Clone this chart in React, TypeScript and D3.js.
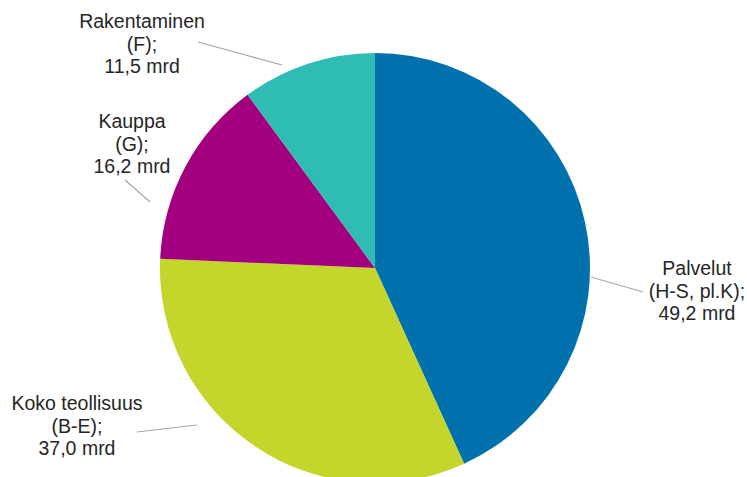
import React, { useRef, useEffect } from 'react';
import * as d3 from 'd3';

// Values, in mrd, clockwise from 12 o'clock
const names = ['Palvelut', 'Koko teollisuus', 'Kauppa', 'Rakentaminen'];
const codes = ['(H-S, pl.K);', '(B-E);', '(G);', '(F);'];
const values = [49.2, 37.0, 16.2, 11.5];
const colors = ['#0071ad', '#c4d52b', '#a2007e', '#2fbcb4'];

const WIDTH = 747;
const HEIGHT = 477;

const fmt = (v: number) => v.toFixed(1).replace('.', ',') + ' mrd';

// label placement: text centre x, first baseline y, leader line from/to
const labelLayout = [
  { x: 697, y: 275, line: [[591, 277], [643, 292]] },
  { x: 77, y: 410, line: [[197, 425], [137, 432]] },
  { x: 132, y: 128, line: [[150, 202], [125, 180]] },
  { x: 142, y: 28, line: [[282, 65], [198, 42]] },
];

const App: React.FC = () => {
  const svgRef = useRef<SVGSVGElement>(null);

  useEffect(() => {
    if (!svgRef.current) return;
    const svg = d3.select(svgRef.current);
    svg.selectAll('*').remove();

    const cx = 375;
    const cy = 268;
    const radius = 215;

    const data = names.map((n, i) => ({ name: n, code: codes[i], value: values[i], color: colors[i] }));

    const pie = d3
      .pie<any>()
      .sort(null)
      .value(d => d.value);

    const arc = d3.arc<any>().innerRadius(0).outerRadius(radius);

    const g = svg.append('g').attr('transform', `translate(${cx}, ${cy})`);

    g.selectAll('path')
      .data(pie(data))
      .enter()
      .append('path')
      .attr('d', arc)
      .attr('fill', d => d.data.color)
      .attr('stroke', 'none');

    // leader lines
    svg
      .selectAll('.leader')
      .data(labelLayout)
      .enter()
      .append('line')
      .attr('class', 'leader')
      .attr('x1', d => d.line[0][0])
      .attr('y1', d => d.line[0][1])
      .attr('x2', d => d.line[1][0])
      .attr('y2', d => d.line[1][1])
      .attr('stroke', '#a6a6a6')
      .attr('stroke-width', 1.2);

    // labels
    data.forEach((d, i) => {
      const l = labelLayout[i];
      const t = svg
        .append('text')
        .attr('x', l.x)
        .attr('y', l.y)
        .attr('text-anchor', 'middle')
        .attr('font-family', '"Liberation Sans", Arial, sans-serif')
        .attr('font-size', '19.5px')
        .attr('fill', '#262626');
      [d.name, d.code, fmt(d.value)].forEach((s, j) => {
        t.append('tspan')
          .attr('x', l.x)
          .attr('y', l.y + j * 22.5)
          .text(s);
      });
    });
  }, []);

  return (
    <div style={{ position: 'absolute', left: 0, top: 0 }}>
      <svg ref={svgRef} width={WIDTH} height={HEIGHT} style={{ display: 'block', background: '#fff' }}></svg>
    </div>
  );
};

export default App;
